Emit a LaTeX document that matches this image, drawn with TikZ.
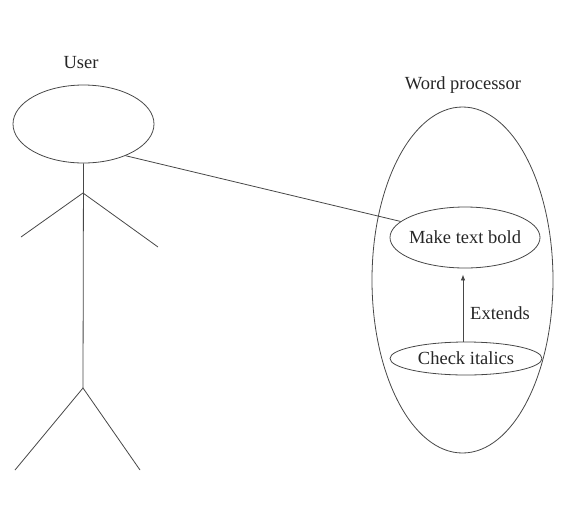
\documentclass[tikz,border=0pt]{standalone}
\usepackage{fontspec}
\setmainfont{Liberation Serif}
\usetikzlibrary{shapes.geometric,arrows.meta}
\begin{document}
\begin{tikzpicture}[x=1pt,y=-1pt,
  ink/.style={draw=black!72,line width=0.8pt},
  oval/.style={ink,ellipse,inner sep=0pt},
  lbl/.style={font=\fontsize{18.5}{21}\selectfont,text=black!85,inner sep=0pt}]
  \useasboundingbox (0,0) rectangle (587,523);

  % actor
  \node[lbl] (user) at (81,63) {User};
  \node[oval,minimum width=141pt,minimum height=78pt] (head) at (83.5,124) {};
  \coordinate (shoulder) at (83,193);
  \coordinate (hip) at (83,388);
  \coordinate (lhand) at (21,237);
  \coordinate (rhand) at (158,247);
  \coordinate (lfoot) at (15,470);
  \coordinate (rfoot) at (140,470);
  \draw[ink] (head.south) -- (hip);
  \draw[ink] (lhand) -- (shoulder) -- (rhand);
  \draw[ink] (lfoot) -- (hip) -- (rfoot);

  % system boundary
  \node[lbl] (sys) at (463,85) {Word processor};
  \node[oval,minimum width=181pt,minimum height=346pt] (wp) at (462.5,280) {};

  % use cases
  \node[oval,lbl,inner xsep=-12pt,minimum width=150pt,minimum height=61pt] (bold) at (465,237.5) {Make text bold};
  \node[oval,lbl,inner xsep=-12pt,minimum width=152pt,minimum height=33pt] (ital) at (466,358.5) {Check italics};

  % relations
  \draw[ink] (head.-37) -- (bold.166);
  \draw[ink,-{Latex[length=6pt,width=4.5pt]},shorten >=6pt]
    (ital.north -| 463,0) -- (bold.south -| 463,0);
  \node[lbl] (ext) at (500,313) {Extends};
\end{tikzpicture}
\end{document}
